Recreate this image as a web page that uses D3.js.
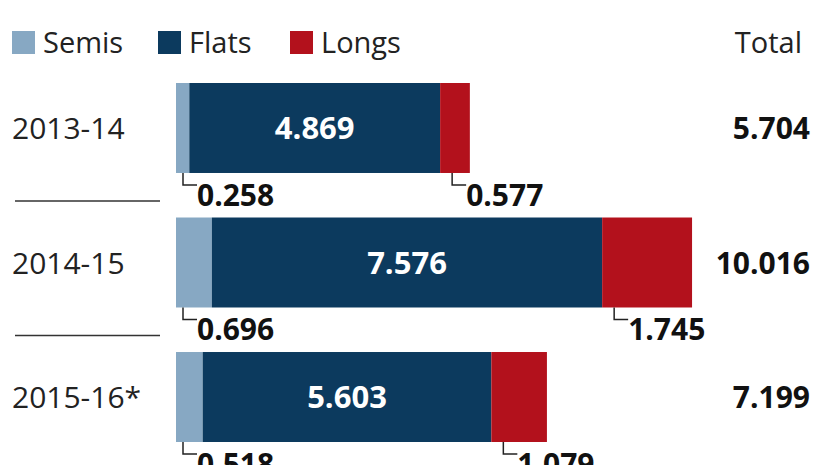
<!DOCTYPE html><html><head><script src="https://cdn.jsdelivr.net/npm/d3@7"></script>
<style>body{margin:0;background:#fff}</style></head><body><svg id="c" width="826" height="465"></svg>
<script>
const years=["2013-14","2014-15","2015-16*"];
const semis=[0.258,0.696,0.518];
const flats=[4.869,7.576,5.603];
const longs=[0.577,1.745,1.079];
const totals=["5.704","10.016","7.199"];
const colors={semis:"#87a8c3",flats:"#0c3a5e",longs:"#b3111c"};
const svg=d3.select("#c"),F="'Open Sans', 'Liberation Sans', sans-serif";
const x=d3.scaleLinear().domain([0,10.016]).range([176,692]);
const y=d3.scaleBand().domain(years).range([83,442]).paddingInner(0.331).paddingOuter(0);
const leg=[["Semis",colors.semis,12],["Flats",colors.flats,158],["Longs",colors.longs,290]];
leg.forEach(([t,c,lx])=>{svg.append("rect").attr("x",lx).attr("y",31).attr("width",23).attr("height",23).attr("fill",c);
svg.append("text").attr("x",lx+31).attr("y",53).text(t).attr("font-family",F).attr("font-size",29).attr("fill","#222");});
svg.append("text").attr("x",802).attr("y",53).attr("text-anchor","end").text("Total").attr("font-family",F).attr("font-size",29).attr("fill","#222");
years.forEach((yr,i)=>{
 const y0=y(yr),h=y.bandwidth();
 const s=semis[i],f=flats[i],l=longs[i];
 svg.append("rect").attr("x",x(0)).attr("y",y0).attr("width",x(s)-x(0)).attr("height",h).attr("fill",colors.semis);
 svg.append("rect").attr("x",x(s)).attr("y",y0).attr("width",x(s+f)-x(s)).attr("height",h).attr("fill",colors.flats);
 svg.append("rect").attr("x",x(s+f)).attr("y",y0).attr("width",x(s+f+l)-x(s+f)).attr("height",h).attr("fill",colors.longs);
 svg.append("text").attr("x",(x(s)+x(s+f))/2).attr("y",y0+h/2+11).attr("text-anchor","middle").text(f.toFixed(3))
  .attr("font-family",F).attr("font-weight","bold").attr("font-size",31).attr("fill","#fff");
 svg.append("text").attr("x",12).attr("y",y0+h/2+11).text(yr).attr("font-family",F).attr("font-size",30).attr("fill","#222");
 svg.append("text").attr("x",810).attr("y",y0+h/2+11).attr("text-anchor","end").text(totals[i])
  .attr("font-family",F).attr("font-weight","bold").attr("font-size",30).attr("fill","#111");
 const by=y0+h;
 [[x(0)+7,s],[x(s+f)+12,l]].forEach(([bx,v])=>{
  svg.append("path").attr("d",`M${bx},${by}V${by+12}H${bx+14}`).attr("fill","none").attr("stroke","#222").attr("stroke-width",1.5);
  svg.append("text").attr("x",bx+14).attr("y",by+33).text(v.toFixed(3)).attr("font-family",F).attr("font-weight","bold").attr("font-size",30).attr("fill","#111");
 });
 if(i<2) svg.append("line").attr("x1",15).attr("x2",160).attr("y1",by+28).attr("y2",by+28).attr("stroke","#333").attr("stroke-width",1.5);
});
</script></body></html>
